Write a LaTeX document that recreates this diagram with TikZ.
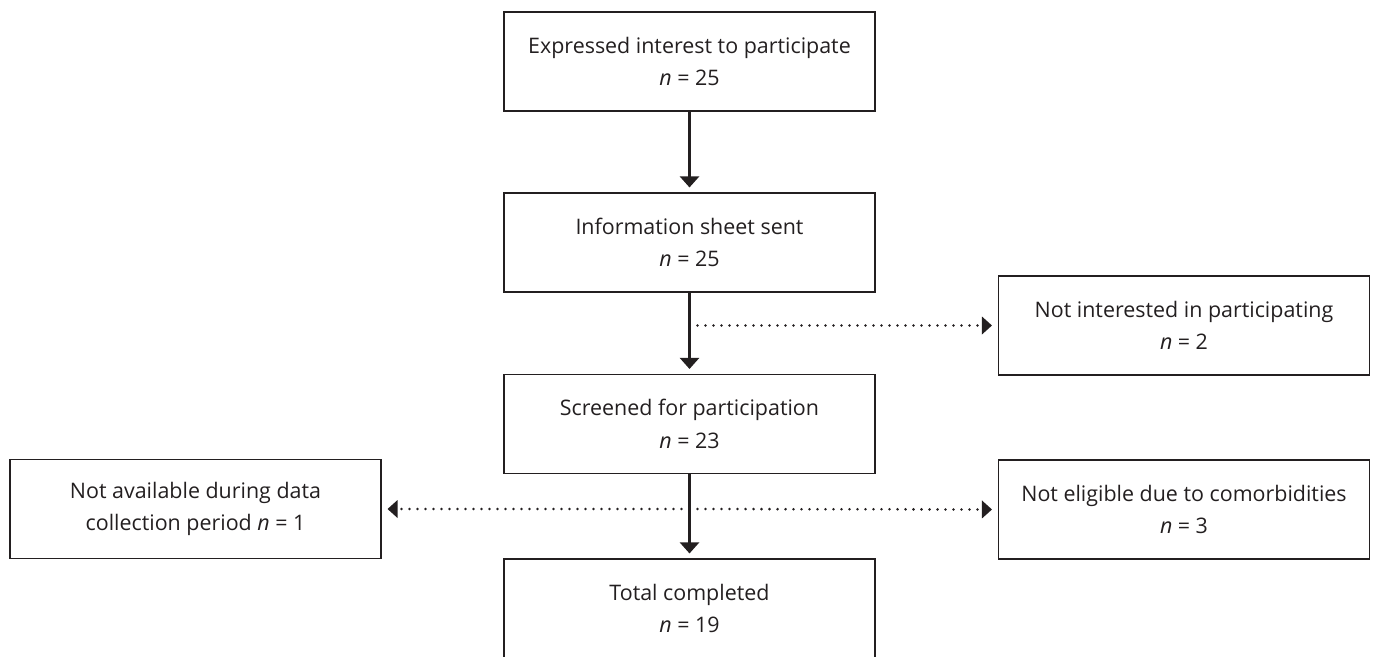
\documentclass[tikz,border=0pt]{standalone}
\usepackage{fontspec}
\setmainfont{Open Sans}
\usetikzlibrary{arrows.meta}
\definecolor{ink}{HTML}{231F20}
\begin{document}
\begin{tikzpicture}[x=1bp,y=-1bp,
  box/.style={draw=ink, line width=1.1bp, minimum width=371bp, minimum height=99bp,
    inner sep=0pt, align=center, text=ink, font=\fontsize{21.5}{32.5}\selectfont},
  flow/.style={draw=ink, line width=2.4bp, -{Triangle[width=19bp,length=11bp]}, shorten >=5bp},
  side/.style={draw=ink, line width=2.8bp, line cap=round, dash pattern=on 0pt off 8bp,
    -{Triangle[width=18bp,length=10bp,line width=0pt]}, shorten >=6bp}]
\useasboundingbox (0,0) rectangle (1378,657);
\clip (0,0) rectangle (1378,657);
\node[box] (b1) at (689.5,61.5) {Expressed interest to participate\\\textit{n} = 25};
\node[box] (b2) at (689.5,242.5) {Information sheet sent\\\textit{n} = 25};
\node[box] (b3) at (689.5,424) {Screened for participation\\\textit{n} = 23};
\node[box] (b4) at (689.5,608.5) {Total completed\\\textit{n} = 19};
\node[box] (r1) at (1184,325.5) {Not interested in participating\\\textit{n} = 2};
\node[box] (r2) at (1184,509.5) {Not eligible due to comorbidities\\\textit{n} = 3};
\node[box] (l1) at (195.5,509) {Not available during data\\collection period \textit{n} = 1};
\coordinate (s1) at (689.5,325.5);
\coordinate (s2) at (689.5,509);
\draw[side] (s1) -- (r1.west);
\draw[side] (s2) -- (r2.west);
\draw[side] (s2) -- (l1.east);
\draw[flow] (b1.south) -- (b2.north);
\draw[flow] (b2.south) -- (b3.north);
\draw[flow] (b3.south) -- (b4.north);
\end{tikzpicture}
\end{document}
